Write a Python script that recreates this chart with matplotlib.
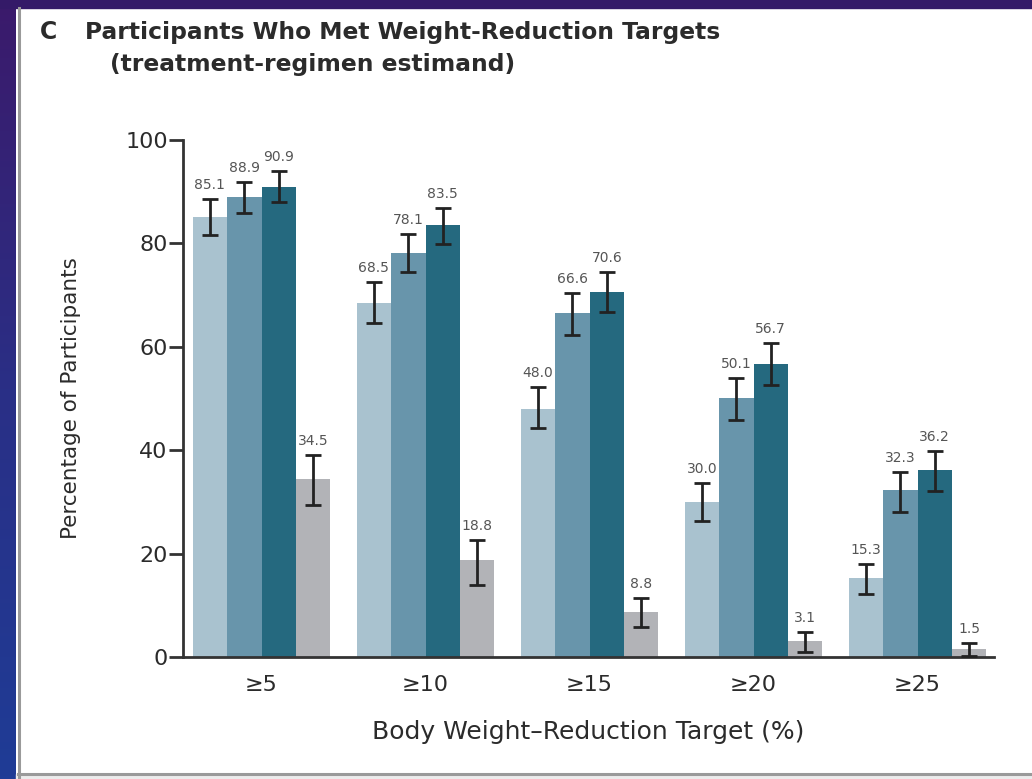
import numpy as np
import matplotlib
matplotlib.use("Agg")
from matplotlib import pyplot as plt
from matplotlib.patches import Rectangle
from matplotlib.lines import Line2D

# data
targets = ["\u22655", "\u226510", "\u226515", "\u226520", "\u226525"]
series_a = [85.1, 68.5, 48.0, 30.0, 15.3]
series_b = [88.9, 78.1, 66.6, 50.1, 32.3]
series_c = [90.9, 83.5, 70.6, 56.7, 36.2]
series_d = [34.5, 18.8, 8.8, 3.1, 1.5]
labels_a = ["85.1", "68.5", "48.0", "30.0", "15.3"]
labels_b = ["88.9", "78.1", "66.6", "50.1", "32.3"]
labels_c = ["90.9", "83.5", "70.6", "56.7", "36.2"]
labels_d = ["34.5", "18.8", "8.8", "3.1", "1.5"]
# confidence limits (lower, upper)
ci_a = [[81.6, 64.6, 44.3, 26.3, 12.2], [88.6, 72.5, 52.2, 33.6, 18.0]]
ci_b = [[85.9, 74.5, 62.3, 45.8, 28.0], [91.9, 81.8, 70.4, 54.0, 35.8]]
ci_c = [[88.0, 79.9, 66.7, 52.6, 32.1], [94.0, 86.8, 74.5, 60.7, 39.8]]
ci_d = [[29.4, 13.9, 5.8, 1.0, 0.2], [39.1, 22.6, 11.4, 4.8, 2.7]]

colors = ["#a9c2cf", "#6895ab", "#25697f", "#b2b3b7"]
text_col = "#2b2b2b"

fig = plt.figure(figsize=(10.32, 7.79), dpi=100)
fig.patch.set_facecolor("white")

# dark slide frame on the left and top
grad = fig.add_axes([0, 0, 16 / 1032, 1])
g = np.linspace(0, 1, 256).reshape(-1, 1)
cmap = matplotlib.colors.LinearSegmentedColormap.from_list("frame", ["#3b1a6b", "#2a2f86", "#1f3c96"])
grad.imshow(g, aspect="auto", cmap=cmap, extent=[0, 1, 0, 1])
grad.axis("off")
fig.patches.append(Rectangle((0, 1 - 8 / 779), 1, 8 / 779, transform=fig.transFigure, color="#341a68", zorder=0))
fig.patches.append(Rectangle((16 / 1032, 0), 1, 5 / 779, transform=fig.transFigure, color="#ececec", zorder=0))
fig.lines.append(Line2D([18.5 / 1032, 18.5 / 1032], [0, 1 - 8 / 779], transform=fig.transFigure, color="#9a9a9a", lw=2.2))
fig.lines.append(Line2D([18 / 1032, 1], [5.5 / 779, 5.5 / 779], transform=fig.transFigure, color="#9a9a9a", lw=2.2))

ax = fig.add_axes([183 / 1032, 122 / 779, 811 / 1032, 517 / 779])
x = np.arange(len(targets))
w = 0.21
offs = np.array([-1.5, -0.5, 0.5, 1.5]) * w
for vals, ci, labs, col, off in zip([series_a, series_b, series_c, series_d],
                                   [ci_a, ci_b, ci_c, ci_d],
                                   [labels_a, labels_b, labels_c, labels_d],
                                   colors, offs):
    ax.bar(x + off, vals, width=w, color=col, zorder=2)
    vals = np.array(vals)
    err = [vals - np.array(ci[0]), np.array(ci[1]) - vals]
    ax.errorbar(x + off, vals, yerr=err, fmt="none", ecolor="#222222",
                elinewidth=2, capsize=5.5, capthick=2, zorder=3)
    for xi, top, lab in zip(x + off, ci[1], labs):
        ax.text(xi, top + 1.4, lab, ha="center", va="bottom", fontsize=10,
                color="#555555", clip_on=False)

ax.set_xlim(-0.479, 4.466)
ax.set_ylim(0, 100)
ax.set_yticks([0, 20, 40, 60, 80, 100])
ax.set_xticks(x)
ax.set_xticklabels(targets)
for s in ["top", "right"]:
    ax.spines[s].set_visible(False)
for s in ["left", "bottom"]:
    ax.spines[s].set_linewidth(2)
    ax.spines[s].set_color("#333333")
ax.tick_params(axis="y", length=10, width=2, color="#333333", labelsize=16, labelcolor=text_col, pad=1)
ax.tick_params(axis="x", length=0, labelsize=16, labelcolor=text_col, pad=13)
ax.set_xlabel("Body Weight\u2013Reduction Target (%)", fontsize=18, color=text_col, labelpad=18)
ax.set_ylabel("Percentage of Participants", fontsize=15.5, color=text_col, labelpad=32)

fig.text(40 / 1032, 1 - 32 / 779, "C", fontsize=17, fontweight="bold", color=text_col, va="center")
fig.text(85 / 1032, 1 - 32 / 779, "Participants Who Met Weight-Reduction Targets", fontsize=16.8,
         fontweight="bold", color=text_col, va="center")
fig.text(110 / 1032, 1 - 65 / 779, "(treatment-regimen estimand)", fontsize=16.8,
         fontweight="bold", color=text_col, va="center")

fig.savefig("out.png", dpi=100)
